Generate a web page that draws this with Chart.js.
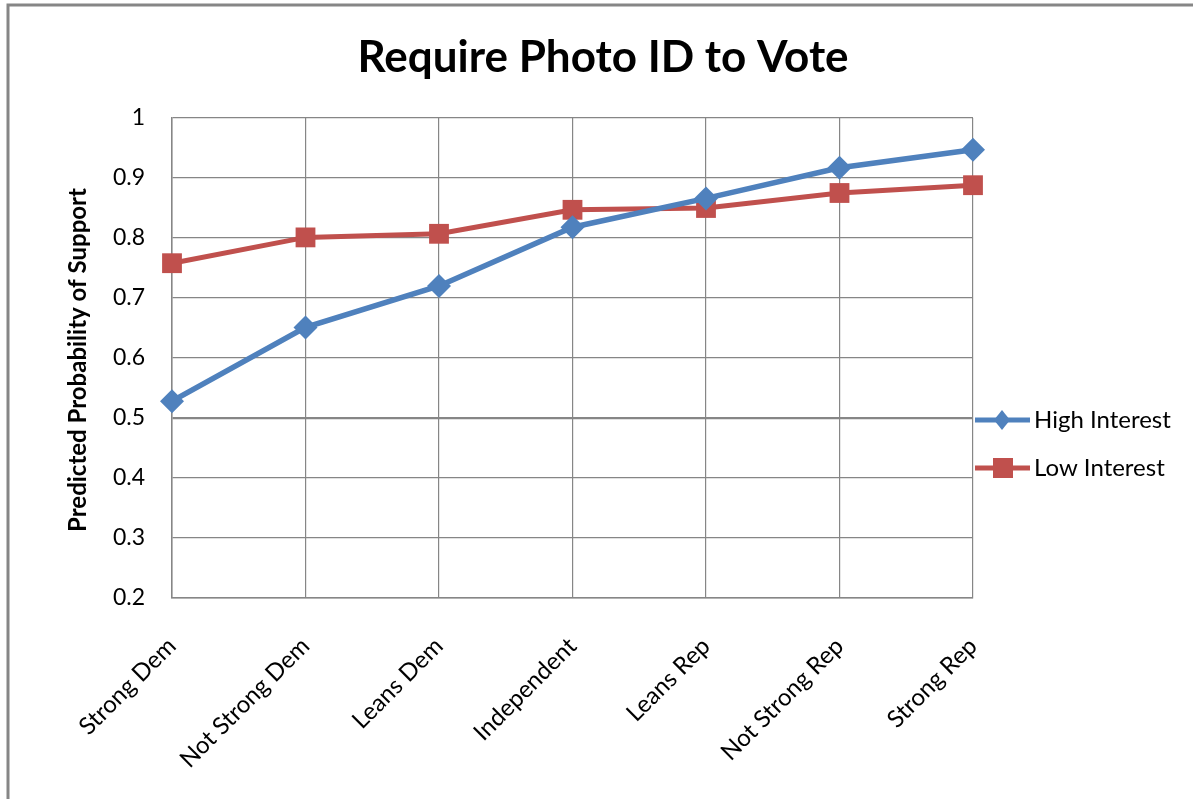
<!DOCTYPE html>
<html>
<head>
<meta charset="utf-8">
<script src="https://cdn.jsdelivr.net/npm/chart.js@4.4.0/dist/chart.umd.min.js"></script>
<style>
  html, body { margin: 0; padding: 0; background: #fff; }
  #wrap { width: 1193px; height: 799px; position: relative; }
</style>
</head>
<body>
<div id="wrap"><canvas id="c" width="1193" height="799"></canvas></div>
<script>
const chartTitle = "Require Photo ID to Vote";
const yAxisTitle = "Predicted Probability of Support";
const categories = ["Strong Dem", "Not Strong Dem", "Leans Dem", "Independent", "Leans Rep", "Not Strong Rep", "Strong Rep"];
const highInterest = [0.528, 0.651, 0.720, 0.818, 0.866, 0.917, 0.947];
const lowInterest = [0.758, 0.801, 0.807, 0.847, 0.850, 0.875, 0.888];
const seriesNames = ["High Interest", "Low Interest"];
const yTicks = [0.2, 0.3, 0.4, 0.5, 0.6, 0.7, 0.8, 0.9, 1];

const FONT = "Lato, 'Open Sans', sans-serif";
const BLUE = "#4F81BD";
const RED = "#C0504D";

const decor = {
  id: 'decor',
  afterDraw(chart) {
    const ctx = chart.ctx;
    ctx.save();
    // outer frame
    ctx.strokeStyle = "#868686";
    ctx.lineWidth = 3;
    ctx.beginPath();
    ctx.moveTo(8, 799);
    ctx.lineTo(8, 5);
    ctx.lineTo(1193, 5);
    ctx.stroke();
    // title
    ctx.fillStyle = "#000";
    ctx.font = "bold 44px " + FONT;
    ctx.textAlign = "center";
    ctx.textBaseline = "middle";
    ctx.fillText(chartTitle, 603, 58);
    // y axis title
    ctx.save();
    ctx.translate(78, 360);
    ctx.rotate(-Math.PI / 2);
    ctx.font = "bold 24px " + FONT;
    ctx.fillText(yAxisTitle, 0, 0);
    ctx.restore();
    // legend
    const items = [
      { name: seriesNames[0], color: BLUE, y: 420, shape: 'diamond' },
      { name: seriesNames[1], color: RED, y: 468, shape: 'square' }
    ];
    items.forEach(it => {
      ctx.strokeStyle = it.color;
      ctx.lineWidth = 5;
      ctx.beginPath();
      ctx.moveTo(975, it.y);
      ctx.lineTo(1030, it.y);
      ctx.stroke();
      ctx.fillStyle = it.color;
      if (it.shape === 'diamond') {
        ctx.beginPath();
        ctx.moveTo(1002, it.y - 10);
        ctx.lineTo(1010, it.y);
        ctx.lineTo(1002, it.y + 10);
        ctx.lineTo(994, it.y);
        ctx.closePath();
        ctx.fill();
      } else {
        ctx.fillRect(993, it.y - 10, 20, 20);
      }
      ctx.fillStyle = "#000";
      ctx.font = "24px " + FONT;
      ctx.textAlign = "left";
      ctx.textBaseline = "middle";
      ctx.fillText(it.name, 1034, it.y);
    });
    ctx.restore();
  }
};

new Chart(document.getElementById('c'), {
  type: 'line',
  data: {
    labels: categories,
    datasets: [
      {
        label: seriesNames[0],
        data: highInterest,
        borderColor: BLUE,
        backgroundColor: BLUE,
        borderWidth: 5.5,
        pointStyle: 'rectRot',
        pointRadius: 12,
        pointHoverRadius: 12,
        pointBorderWidth: 0,
        tension: 0
      },
      {
        label: seriesNames[1],
        data: lowInterest,
        borderColor: RED,
        backgroundColor: RED,
        borderWidth: 5,
        pointStyle: 'rect',
        pointRadius: 14,
        pointHoverRadius: 14,
        pointBorderWidth: 0,
        tension: 0
      }
    ]
  },
  options: {
    responsive: false,
    animation: false,
    devicePixelRatio: 1,
    layout: { padding: { top: 118, right: 220, bottom: 0, left: 0 } },
    plugins: {
      legend: { display: false },
      title: { display: false },
      tooltip: { enabled: false }
    },
    scales: {
      x: {
        type: 'category',
        offset: false,
        grid: { color: "#868686", lineWidth: 1.2, drawTicks: false },
        border: { color: "#868686", width: 1.5 },
        ticks: {
          color: "#000",
          font: { family: FONT, size: 24 },
          minRotation: 45,
          maxRotation: 45,
          padding: 34,
          autoSkip: false
        },
        afterFit(scale) { scale.height = 201; }
      },
      y: {
        min: 0.2,
        max: 1,
        afterBuildTicks(scale) { scale.ticks = yTicks.map(v => ({ value: v })); },
        grid: {
          color: "#868686",
          lineWidth: ctx => (ctx.tick && Math.abs(ctx.tick.value - 0.5) < 1e-6) ? 2.2 : 1.2,
          drawTicks: false
        },
        border: { color: "#868686", width: 1.5 },
        ticks: {
          color: "#000",
          font: { family: FONT, size: 23 },
          padding: 27,
          callback: v => String(Math.round(v * 10) / 10)
        },
        afterFit(scale) { scale.width = 172; }
      }
    }
  },
  plugins: [decor]
});
</script>
</body>
</html>
